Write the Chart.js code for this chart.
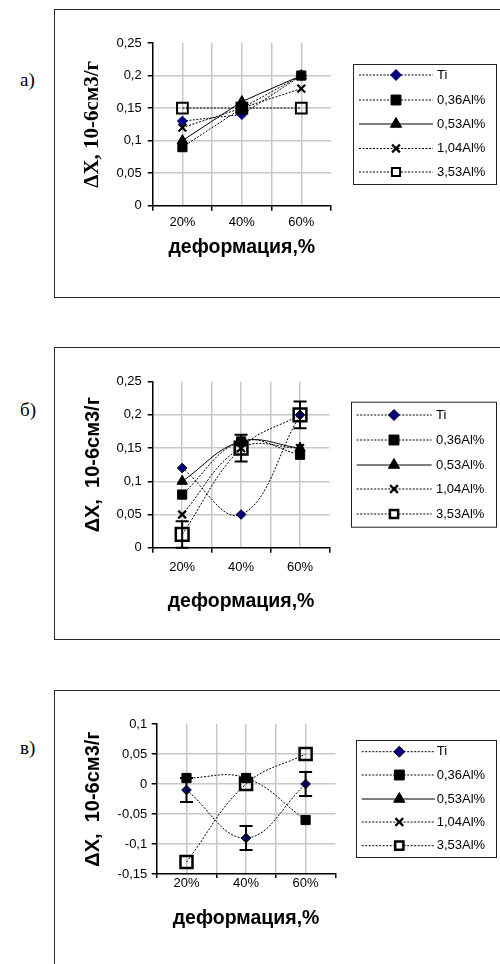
<!DOCTYPE html>
<html>
<head>
<meta charset="utf-8">
<script src="https://cdn.jsdelivr.net/npm/chart.js@4.4.1/dist/chart.umd.min.js"></script>
<style>
  body { margin: 0; width: 500px; height: 964px; overflow: hidden; background: #fff; position: relative; }
  .box { position: absolute; left: 54px; width: 470px; border: 1.5px solid #2a2a2a; box-sizing: border-box; }
  .lbl { position: absolute; left: 20px; font-family: "Liberation Serif", serif; font-size: 19px; color: #000; line-height: 22px; }
  canvas { position: absolute; left: 0; }
</style>
</head>
<body>
<div class="box" style="top:9px;height:289px"></div>
<div class="box" style="top:347px;height:293px"></div>
<div class="box" style="top:690px;height:300px"></div>
<div class="lbl" style="top:69px">а)</div>
<div class="lbl" style="top:399px">б)</div>
<div class="lbl" style="top:737px">в)</div>
<canvas id="chartA" width="500" height="287" style="top:10px"></canvas>
<canvas id="chartB" width="500" height="291" style="top:348px"></canvas>
<canvas id="chartC" width="500" height="273" style="top:691px"></canvas>
<script>
const categories = ['20%', '40%', '60%'];
const seriesNames = ['Ti', '0,36Al%', '0,53Al%', '1,04Al%', '3,53Al%'];

// а)
const tiA = [0.13, 0.14, 0.2];
const al036A = [0.09, 0.15, 0.2];
const al053A = [0.10, 0.16, 0.2];
const al104A = [0.12, 0.15, 0.18];
const al353A = [0.15, 0.15, 0.15];
const yTicksA = [0, 0.05, 0.1, 0.15, 0.2, 0.25];

// б)
const tiB = [0.12, 0.05, 0.2];
const al036B = [0.08, 0.16, 0.14];
const al053B = [0.10, 0.16, 0.15];
const al104B = [0.05, 0.15, 0.15];
const al353B = [0.02, 0.15, 0.2];
const errAl353B = [0.02, 0.02, 0.02];
const yTicksB = [0, 0.05, 0.1, 0.15, 0.2, 0.25];

// в)
const tiC = [-0.01, -0.09, 0.0];
const errTiC = [0.02, 0.02, 0.02];
const al036C = [0.01, 0.01, -0.06];
const al053C = [null, null, null];
const al104C = [null, null, null];
const al353C = [-0.13, 0.0, 0.05];
const yTicksC = [-0.15, -0.1, -0.05, 0, 0.05, 0.1];

const NONE = 'rgba(0,0,0,0)';
const SANS = '"Liberation Sans", Arial, sans-serif';
const fmt = v => String(Number(v.toFixed(2))).replace('.', ',');

// error bars drawn from the scales
const errorBars = {
  id: 'errorBars',
  afterDatasetsDraw(chart) {
    const { ctx, scales: { x, y } } = chart;
    chart.data.datasets.forEach(ds => {
      if (!ds.errors) return;
      ctx.save();
      ctx.strokeStyle = '#000';
      ctx.lineWidth = 2;
      ds.data.forEach((p, j) => {
        const e = ds.errors[j];
        if (p.y == null || !e) return;
        const px = x.getPixelForValue(p.x);
        const top = y.getPixelForValue(p.y + e);
        const bot = y.getPixelForValue(p.y - e);
        ctx.beginPath();
        ctx.moveTo(px, top); ctx.lineTo(px, bot);
        ctx.moveTo(px - 6.5, top); ctx.lineTo(px + 6.5, top);
        ctx.moveTo(px - 6.5, bot); ctx.lineTo(px + 6.5, bot);
        ctx.stroke();
      });
      ctx.restore();
    });
  }
};

// Excel-like boxed legend on the right
const boxLegend = {
  id: 'boxLegend',
  afterDraw(chart, args, o) {
    const ctx = chart.ctx;
    ctx.save();
    ctx.strokeStyle = '#222';
    ctx.lineWidth = 1;
    ctx.strokeRect(o.box[0] + 0.5, o.box[1] + 0.5, o.box[2] - o.box[0], o.box[3] - o.box[1]);
    chart.data.datasets.forEach((ds, i) => {
      const y = o.rows[i];
      ctx.beginPath();
      ctx.setLineDash(ds.borderDash || []);
      ctx.strokeStyle = ds.borderColor;
      ctx.lineWidth = ds.borderWidth;
      ctx.moveTo(o.x1, y); ctx.lineTo(o.x2, y);
      ctx.stroke();
      ctx.setLineDash([]);
      ctx.fillStyle = ds.legendFill;
      ctx.strokeStyle = ds.pointBorderColor;
      ctx.lineWidth = ds.pointBorderWidth;
      Chart.helpers.drawPoint(ctx, { pointStyle: ds.pointStyle, radius: ds.legendRadius, rotation: 0, borderWidth: ds.pointBorderWidth }, o.xm, y);
      ctx.fillStyle = '#000';
      ctx.font = '13px ' + SANS;
      ctx.textBaseline = 'middle';
      ctx.textAlign = 'left';
      ctx.fillText(ds.label, o.xt, y);
    });
    ctx.restore();
  }
};

function makePanel(id, cfg, values, errors) {
  const styles = [
    { ps: 'rectRot', r: cfg.tiR, fill: '#000080', lf: '#000080', border: cfg.tiBorder, bw: 1, dash: [2, 1.5], lr: 5.5 },
    { ps: 'rect', r: 6.5, fill: '#000', lf: '#000', border: '#000', bw: 1, dash: [2, 1.5], lr: 7 },
    { ps: 'triangle', r: 6, fill: '#000', lf: '#000', border: '#000', bw: 1, dash: [], lr: 6.5 },
    { ps: 'crossRot', r: 5.5, fill: '#000', lf: '#000', border: '#000', bw: 2.2, dash: [2, 1.5], lr: 5.5 },
    { ps: 'rect', r: cfg.sqR, fill: NONE, lf: '#fff', border: '#000', bw: cfg.sqW, dash: [2, 1.5], lr: 5.8 }
  ];
  const datasets = values.map((vals, i) => ({
    label: seriesNames[i],
    data: vals.map((v, j) => ({ x: j + 1, y: v })),
    errors: errors[i],
    borderColor: '#000',
    borderWidth: 1,
    borderDash: styles[i].dash,
    tension: cfg.tension,
    pointStyle: styles[i].ps,
    pointRadius: styles[i].r,
    pointBackgroundColor: styles[i].fill,
    pointBorderColor: styles[i].border,
    pointBorderWidth: styles[i].bw,
    legendRadius: styles[i].lr,
    legendFill: styles[i].lf,
    order: -i
  }));
  const yt = cfg.yTicks;
  const yMin = yt[0], yMax = yt[yt.length - 1];
  const xTitleSize = 19.5;
  const xScaleH = cfg.xTitleY - cfg.area.bottom + xTitleSize / 2;
  const canvas = document.getElementById(id);
  return new Chart(canvas, {
    type: 'line',
    data: { datasets },
    options: {
      responsive: false,
      animation: false,
      devicePixelRatio: 1,
      layout: {
        padding: {
          left: 0,
          top: cfg.area.top,
          right: 500 - cfg.area.right,
          bottom: canvas.height - cfg.area.bottom - xScaleH
        }
      },
      scales: {
        x: {
          type: 'linear',
          min: 0.5,
          max: 3.5,
          afterBuildTicks: s => { s.ticks = [0.5, 1, 1.5, 2, 2.5, 3, 3.5].map(v => ({ value: v })); },
          afterFit: s => { s.height = xScaleH; },
          ticks: {
            autoSkip: false,
            maxRotation: 0,
            padding: cfg.xPad,
            color: '#000',
            font: { family: SANS, size: 13 },
            callback: v => Number.isInteger(v) ? categories[v - 1] : ''
          },
          grid: {
            color: c => (c.tick && (c.tick.value === 0.5 || c.tick.value === 3.5)) ? NONE : '#c8c8c8',
            lineWidth: 1.5,
            tickColor: c => (c.tick && Number.isInteger(c.tick.value)) ? NONE : '#000',
            tickLength: cfg.xTickLen,
            tickWidth: 1.5
          },
          border: { color: '#000', width: 1.5 },
          title: {
            display: true,
            text: 'деформация,%',
            color: '#000',
            font: { family: SANS, size: xTitleSize, weight: 'bold', lineHeight: 1 },
            padding: { top: 0, bottom: 0 }
          }
        },
        y: {
          type: 'linear',
          min: yMin,
          max: yMax,
          afterBuildTicks: s => { s.ticks = yt.map(v => ({ value: v })); },
          afterFit: s => { s.width = cfg.area.left; },
          ticks: {
            padding: cfg.yPad,
            color: '#000',
            font: { family: SANS, size: 13 },
            callback: v => fmt(v)
          },
          grid: {
            color: c => (c.tick && (c.tick.value === yMin || c.tick.value === yMax)) ? NONE : '#c8c8c8',
            lineWidth: 1.5,
            tickColor: '#000',
            tickLength: 5,
            tickWidth: 1.5
          },
          border: { color: '#000', width: 1.5 },
          title: {
            display: true,
            text: cfg.yTitle,
            color: '#000',
            font: { family: cfg.yTitleFamily, size: cfg.yTitleSize, weight: 'bold', lineHeight: 1 },
            padding: { top: cfg.yTitleX - cfg.yTitleSize / 2, bottom: 0 }
          }
        }
      },
      plugins: {
        legend: { display: false },
        tooltip: { enabled: false },
        boxLegend: cfg.legend
      }
    },
    plugins: [errorBars, boxLegend]
  });
}

makePanel('chartA', {
  area: { left: 152.7, right: 331, top: 33, bottom: 195.7 },
  yTicks: yTicksA, xTitleY: 238, xPad: 4, xTickLen: 5, yPad: 6, tension: 0,
  yTitle: 'ΔX, 10-6см3/г', yTitleFamily: '"Liberation Serif", "Times New Roman", serif', yTitleSize: 21, yTitleX: 93,
  tiR: 5, tiBorder: '#000080', sqR: 7.6, sqW: 2,
  legend: { box: [353, 54, 496, 174], rows: [65, 90, 114, 138.5, 162], x1: 359, x2: 433, xm: 396, xt: 437 }
}, [tiA, al036A, al053A, al104A, al353A], [null, null, null, null, null]);

makePanel('chartB', {
  area: { left: 152.7, right: 329.5, top: 33.7, bottom: 199.7 },
  yTicks: yTicksB, xTitleY: 253.7, xPad: 7, xTickLen: 5, yPad: 6, tension: 0.4,
  yTitle: 'ΔX,  10-6см3/г', yTitleFamily: SANS, yTitleSize: 20, yTitleX: 93,
  tiR: 4.8, tiBorder: '#000', sqR: 9, sqW: 2.5,
  legend: { box: [351, 53.7, 496, 178.7], rows: [67, 92, 117, 141, 166], x1: 356.7, x2: 431.7, xm: 394, xt: 436 }
}, [tiB, al036B, al053B, al104B, al353B], [null, null, null, null, errAl353B]);

makePanel('chartC', {
  area: { left: 156.7, right: 335.4, top: 33, bottom: 183 },
  yTicks: yTicksC, xTitleY: 227.3, xPad: -2, xTickLen: 4, yPad: 4.5, tension: 0.4,
  yTitle: 'ΔX,  10-6см3/г', yTitleFamily: SANS, yTitleSize: 20, yTitleX: 93,
  tiR: 4.8, tiBorder: '#000', sqR: 8.5, sqW: 2.5,
  legend: { box: [356, 49, 496, 166], rows: [60.7, 84, 108, 131, 154.7], x1: 361.7, x2: 435, xm: 399.3, xt: 436.7 }
}, [tiC, al036C, al053C, al104C, al353C], [errTiC, null, null, null, null]);
</script>
</body>
</html>
